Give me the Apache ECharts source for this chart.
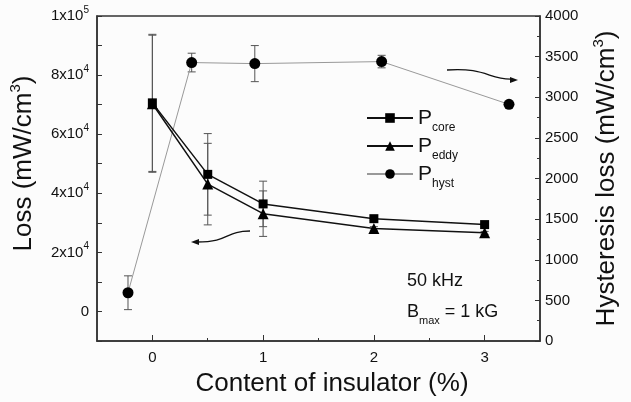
<!DOCTYPE html>
<html><head><meta charset="utf-8">
<script src="https://cdn.jsdelivr.net/npm/echarts@6/dist/echarts.min.js"></script>
<style>html,body{margin:0;padding:0;background:#fcfcfc}#c{width:631px;height:402px}</style>
</head><body><div id="c"></div>
<script>
// ---- data ----
const xCore = [0, 0.5, 1, 2, 3];
const pCore = [70600, 46400, 36400, 31400, 29400];
const pCoreErr = [23200, 13800, 7700, 600, 500];
const pEddy = [70300, 43100, 33100, 28100, 26600];
const pEddyErr = [23200, 13800, 7700, 600, 500];
const xHyst = [-0.22, 0.355, 0.925, 2.07, 3.22];
const pHyst = [594, 3427, 3414, 3439, 2913];
const pHystErr = [208, 115, 222, 77, 0];
const xTickLabels = [0, 1, 2, 3];
const xMinorTicks = [0.5, 1.5, 2.5];
const lossTickLabels = [0, 20000, 40000, 60000, 80000, 100000];
const seriesNames = ['core', 'eddy', 'hyst'];

const FONT = 'Liberation Sans, Arial, sans-serif';
const INK = '#111';

function pairs(xs, ys) { return xs.map((x, i) => [x, ys[i]]); }
function errs(xs, ys, es) { return xs.map((x, i) => [x, ys[i] - es[i], ys[i] + es[i]]); }

function sciLabel(v) {
  if (v === 0) return '{m|0}';
  const e = Math.floor(Math.log10(v) + 1e-9);
  const m = Math.round(v / Math.pow(10, e));
  return '{m|' + m + 'x10}{sup|' + e + '}';
}

function errRender(params, api) {
  const x = api.value(0), lo = api.value(1), hi = api.value(2);
  if (hi - lo <= 0) return null;
  const a = api.coord([x, hi]), b = api.coord([x, lo]);
  const w = 4;
  const st = { stroke: '#555', lineWidth: 1 };
  return {
    type: 'group', children: [
      { type: 'line', shape: { x1: a[0], y1: a[1], x2: b[0], y2: b[1] }, style: st },
      { type: 'line', shape: { x1: a[0] - w, y1: a[1], x2: a[0] + w, y2: a[1] }, style: st },
      { type: 'line', shape: { x1: b[0] - w, y1: b[1], x2: b[0] + w, y2: b[1] }, style: st }
    ]
  };
}

const labelRich = {
  m: { fontSize: 15, fontFamily: FONT, color: INK, lineHeight: 16 },
  sup: { fontSize: 10, fontFamily: FONT, color: INK, lineHeight: 10, padding: [0, 0, 12, 0] }
};
const nameRich = {
  m: { fontSize: 26, fontFamily: FONT, color: INK, lineHeight: 28 },
  sup: { fontSize: 15, fontFamily: FONT, color: INK, lineHeight: 15, padding: [0, 0, 17, 0] }
};

const chart = echarts.init(document.getElementById('c'), null, { renderer: 'canvas' });
chart.setOption({
  backgroundColor: '#fcfcfc',
  animation: false,
  grid: { left: 96, right: 86, top: 16, bottom: 57, show: true, borderColor: '#333', borderWidth: 1.5, backgroundColor: 'transparent' },
  xAxis: [{
    type: 'value', min: -0.5, max: 3.5,
    axisLine: { show: true, onZero: false, lineStyle: { color: '#333', width: 1.5 } },
    axisTick: { show: true, inside: true, length: 6, customValues: xTickLabels, lineStyle: { color: '#333' } },
    axisLabel: { customValues: xTickLabels, fontSize: 15, fontFamily: FONT, color: INK, margin: 9 },
    splitLine: { show: false },
    name: 'Content of insulator (%)', nameLocation: 'middle', nameGap: 30,
    nameTextStyle: { fontSize: 26, fontFamily: FONT, color: INK, padding: [0, 0, 0, 27] }
  }, {
    type: 'value', min: -0.5, max: 3.5, position: 'bottom',
    axisLine: { show: false, onZero: false },
    axisTick: { show: true, inside: true, length: 3, customValues: xMinorTicks, lineStyle: { color: '#333' } },
    axisLabel: { show: false }, splitLine: { show: false }
  }],
  yAxis: [{
    type: 'value', min: -10000, max: 100000, interval: 10000,
    axisLine: { show: true, onZero: false, lineStyle: { color: '#333', width: 1.5 } },
    axisTick: { show: true, inside: true, length: 5, lineStyle: { color: '#333' } },
    axisLabel: {
      customValues: lossTickLabels, margin: 8,
      formatter: v => (Math.round(v / 10000) % 2 === 0 && v >= 0) ? sciLabel(v) : '',
      rich: labelRich
    },
    splitLine: { show: false },
    name: '{m|Loss (mW/cm}{sup|3}{m|)}', nameLocation: 'middle', nameGap: 57,
    nameTextStyle: { rich: nameRich, padding: [0, 0, 0, 30] }
  }, {
    type: 'value', min: 0, max: 4000, interval: 500, position: 'right',
    axisLine: { show: true, onZero: false, lineStyle: { color: '#333', width: 1.5 } },
    axisTick: { show: true, inside: true, length: 5, lineStyle: { color: '#333' } },
    minorTick: { show: true, splitNumber: 2, length: 3, lineStyle: { color: '#333' } },
    axisLabel: { fontSize: 15, fontFamily: FONT, color: INK, margin: 5, formatter: v => String(v) },
    splitLine: { show: false },
    name: '{m|Hysteresis loss (mW/cm}{sup|3}{m|)}', nameLocation: 'middle', nameGap: 53,
    nameTextStyle: { rich: nameRich }
  }],
  legend: {
    orient: 'vertical', left: 361, top: 97, itemWidth: 46, itemHeight: 12, itemGap: -4,
    data: seriesNames,
    formatter: n => '{p|P}{s|' + n + '}',
    textStyle: {
      rich: {
        p: { fontSize: 21, fontFamily: FONT, color: INK, lineHeight: 22 },
        s: { fontSize: 12, fontFamily: FONT, color: INK, lineHeight: 12, padding: [20, 0, 0, 0] }
      }
    }
  },
  series: [
    { type: 'custom', name: 'coreErr', xAxisIndex: 0, yAxisIndex: 0, renderItem: errRender, data: errs(xCore, pCore, pCoreErr), z: 1, encode: { x: 0, y: [1, 2] } },
    { type: 'custom', name: 'eddyErr', xAxisIndex: 0, yAxisIndex: 0, renderItem: errRender, data: errs(xCore, pEddy, pEddyErr), z: 1, encode: { x: 0, y: [1, 2] } },
    { type: 'custom', name: 'hystErr', xAxisIndex: 0, yAxisIndex: 1, renderItem: errRender, data: errs(xHyst, pHyst, pHystErr), z: 1, encode: { x: 0, y: [1, 2] } },
    { type: 'line', name: 'hyst', xAxisIndex: 0, yAxisIndex: 1, data: pairs(xHyst, pHyst), symbol: 'circle', symbolSize: 11,
      itemStyle: { color: '#000' }, lineStyle: { color: '#999', width: 1 }, z: 3 },
    { type: 'line', name: 'core', xAxisIndex: 0, yAxisIndex: 0, data: pairs(xCore, pCore), symbol: 'rect', symbolSize: 9,
      itemStyle: { color: '#000' }, lineStyle: { color: '#111', width: 1.5 }, z: 4 },
    { type: 'line', name: 'eddy', xAxisIndex: 0, yAxisIndex: 0, data: pairs(xCore, pEddy), symbol: 'triangle', symbolSize: 11,
      itemStyle: { color: '#000' }, lineStyle: { color: '#111', width: 1.5 }, z: 4 }
  ],
  graphic: [
    { type: 'text', left: 407, top: 272, style: { text: '50 kHz', font: '18px ' + FONT, fill: INK } },
    { type: 'text', left: 407, top: 298, style: {
        text: '{b|B}{s|max}{b| = 1 kG}',
        rich: {
          b: { fontSize: 18, fontFamily: FONT, fill: INK, lineHeight: 20 },
          s: { fontSize: 11, fontFamily: FONT, fill: INK, lineHeight: 11, padding: [17, 0, 0, 0] }
        } } },
    { type: 'bezierCurve', shape: { x1: 447, y1: 70, cpx1: 485, cpy1: 67, cpx2: 490, cpy2: 80, x2: 512, y2: 79 }, style: { stroke: '#111', fill: null, lineWidth: 1.3 } },
    { type: 'polygon', shape: { points: [[518, 80], [510, 77], [510, 83]] }, style: { fill: '#111' } },
    { type: 'bezierCurve', shape: { x1: 250, y1: 231, cpx1: 225, cpy1: 231, cpx2: 230, cpy2: 242, x2: 197, y2: 242 }, style: { stroke: '#111', fill: null, lineWidth: 1.3 } },
    { type: 'polygon', shape: { points: [[191, 242], [199, 239], [199, 245]] }, style: { fill: '#111' } }
  ]
});
</script>
</body></html>
